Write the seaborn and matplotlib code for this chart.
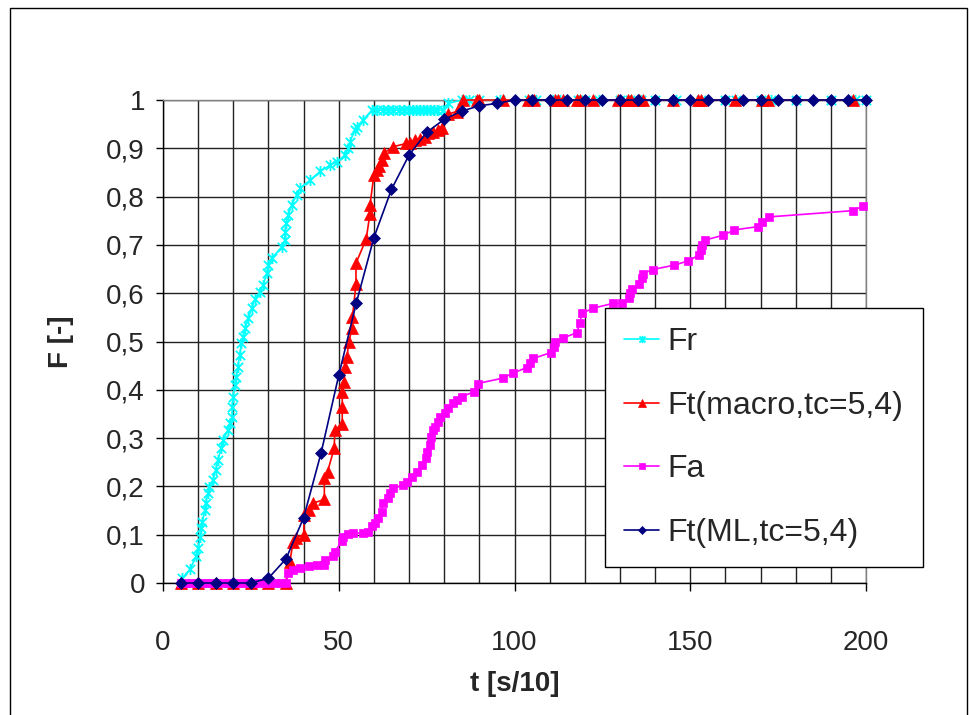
import matplotlib
matplotlib.use("Agg")
import matplotlib.pyplot as plt
import seaborn as sns
from matplotlib.path import Path
from matplotlib.patches import Rectangle
from matplotlib.ticker import MultipleLocator, FuncFormatter

# ---- data -------------------------------------------------------------
fr_t = [5.5, 7.6, 9.5, 10, 10.6, 10.9, 11.2, 11.9, 12.1, 12.8,
        13.1, 14.2, 15, 15.6, 16.6, 17.1, 18.5, 19, 19.7, 19.7,
        19.9, 20.4, 20.9, 21.3, 21.8, 22.3, 22.8, 23.3, 24.3, 25.2,
        26.2, 27.6, 28.5, 29.5, 30, 30.9, 33.8, 34.7, 34.7, 35,
        35.6, 36.6, 38, 39, 41.8, 44.7, 47.5, 49.4, 51.8, 52.7,
        53.2, 54.6, 55.1, 57, 59.4, 61, 62.5, 64, 65.5, 67,
        68.5, 70, 71, 72, 73, 74, 75, 76, 77, 78,
        79.7, 81.2, 85, 87, 90, 96, 104, 106, 111, 113,
        118, 120, 124, 130, 133, 136, 140, 146, 153, 160,
        163, 170, 173, 180, 190, 197, 200]
fr_F = [0.01, 0.028, 0.055, 0.072, 0.096, 0.113, 0.127, 0.151, 0.166, 0.186,
        0.199, 0.213, 0.234, 0.255, 0.279, 0.296, 0.317, 0.331, 0.344, 0.365,
        0.386, 0.41, 0.427, 0.448, 0.472, 0.496, 0.51, 0.527, 0.548, 0.569,
        0.589, 0.603, 0.617, 0.641, 0.658, 0.672, 0.696, 0.71, 0.727, 0.745,
        0.762, 0.783, 0.803, 0.817, 0.834, 0.852, 0.865, 0.872, 0.886, 0.9,
        0.914, 0.938, 0.945, 0.959, 0.979, 0.979, 0.979, 0.979, 0.979, 0.979,
        0.979, 0.979, 0.979, 0.979, 0.979, 0.979, 0.979, 0.979, 0.979, 0.979,
        0.979, 0.993, 1, 1, 1, 1, 1, 1, 1, 1,
        1, 1, 1, 1, 1, 1, 1, 1, 1, 1,
        1, 1, 1, 1, 1, 1, 1]

macro_t = [5, 10, 15, 20, 25, 30, 35,
           36.1, 37, 37.8, 40, 40.2, 41.4, 42.6, 45.9, 45.9, 46.8,
           48.7, 48.9, 51, 51, 51, 51.5, 51.8, 52.3, 52.9, 53.7,
           53.9, 54.9, 54.9, 57.8, 58.9, 58.9, 60, 60.8, 61.5, 62.2,
           62.9, 65.3, 69.2, 70.3, 71.7, 73.1, 74.5, 75.5, 76.9, 78.3,
           79.5, 81.2, 83.5, 85.4, 89.2, 90, 96.6, 103.9, 105.6, 111.5,
           112.5, 113.9, 117.7, 118.6, 122.4, 129.5, 132.4, 133.1, 135.5, 136.6,
           145.2, 152.3, 153, 162.7, 170.3, 172.2, 196.4]
macro_F = [0, 0, 0, 0, 0, 0, 0,
           0.044, 0.085, 0.093, 0.10, 0.14, 0.151, 0.165, 0.173, 0.217, 0.23,
           0.279, 0.317, 0.33, 0.365, 0.396, 0.417, 0.448, 0.468, 0.498, 0.527,
           0.551, 0.619, 0.662, 0.712, 0.765, 0.783, 0.845, 0.855, 0.864, 0.876,
           0.89, 0.903, 0.91, 0.912, 0.917, 0.92, 0.924, 0.931, 0.934, 0.938,
           0.941, 0.971, 0.976, 1, 1, 1, 1, 1, 1, 1,
           1, 1, 1, 1, 1, 1, 1, 1, 1, 1,
           1, 1, 1, 1, 1, 1, 1]

fa_t = [5, 6.5, 8, 9.5, 11, 12.5, 14, 15.5, 17, 18.5, 20,
        21.5, 23, 24.5, 26, 27.5, 29, 30.5, 32, 33.5, 35,
        35.6, 37, 39, 41.4, 43.7, 45.8, 46.1,
        48.5, 48.9, 50.8, 51.3, 52.7, 54.1, 57, 58.4, 59.4, 60.3,
        61.3, 62.2, 62.5, 64.1, 64.6, 65.5, 68.4, 69.3, 70.8, 72.2,
        73.6, 74.8, 75.2, 76, 76.2, 76.7, 77.4, 78.3, 78.8, 80.2,
        81.2, 82.6, 83.6, 85, 88.6, 89.5, 96.6, 99.7, 103.5, 104.4,
        105.4, 110.3, 111.2, 111.5, 113.7, 117.7, 118.6, 119.1, 122.4, 128.1,
        130.5, 132.6, 132.9, 133.5, 135.5, 136.2, 136.5, 139.3, 145.4, 149.5,
        152.5, 153.1, 153.3, 154.2, 159.4, 162.5, 169.4, 170.3, 172.5, 196.4,
        199.2]
fa_F = [0, 0, 0, 0, 0, 0, 0, 0, 0, 0, 0,
        0, 0, 0, 0, 0, 0, 0, 0, 0, 0,
        0.02, 0.027, 0.032, 0.035, 0.037, 0.037, 0.048,
        0.055, 0.065, 0.086, 0.096, 0.101, 0.104, 0.103, 0.106, 0.117, 0.124,
        0.134, 0.148, 0.165, 0.175, 0.186, 0.196, 0.203, 0.21, 0.22, 0.23,
        0.244, 0.258, 0.272, 0.286, 0.303, 0.317, 0.324, 0.334, 0.344, 0.351,
        0.362, 0.372, 0.379, 0.386, 0.396, 0.413, 0.424, 0.435, 0.446, 0.455,
        0.465, 0.477, 0.489, 0.5, 0.507, 0.518, 0.538, 0.558, 0.569, 0.579,
        0.579, 0.591, 0.6, 0.608, 0.62, 0.631, 0.64, 0.649, 0.658, 0.667,
        0.679, 0.689, 0.7, 0.71, 0.72, 0.731, 0.738, 0.748, 0.758, 0.771,
        0.781]

ml_t = [5, 10, 15, 20, 25, 30, 35, 40, 45, 50,
        55, 60, 65, 70, 75, 80, 85, 90, 95, 100,
        105, 110, 115, 120, 125, 130, 135, 140, 145, 150,
        155, 160, 165, 170, 175, 180, 185, 190, 195, 200]
ml_F = [0, 0, 0, 0, 0, 0.01, 0.05, 0.135, 0.27, 0.43,
        0.58, 0.715, 0.815, 0.886, 0.933, 0.96, 0.977, 0.988, 0.993, 1,
        1, 1, 1, 1, 1, 1, 1, 1, 1, 1,
        1, 1, 1, 1, 1, 1, 1, 1, 1, 1]

x_ticks = [0, 50, 100, 150, 200]
y_ticks = [0, 0.1, 0.2, 0.3, 0.4, 0.5, 0.6, 0.7, 0.8, 0.9, 1]

# ---- style ------------------------------------------------------------
sns.set_theme(style="white")
plt.rcParams["font.family"] = ["Liberation Sans", "DejaVu Sans"]

# asterisk-like cross marker (x with a vertical bar)
star_x = Path([(-1, -1), (1, 1), (-1, 1), (1, -1), (0, -1.2), (0, 1.2)],
              [Path.MOVETO, Path.LINETO, Path.MOVETO, Path.LINETO,
               Path.MOVETO, Path.LINETO])

fig = plt.figure(figsize=(9.69, 7.15), dpi=100)
ax = fig.add_axes([163 / 969, 1 - 583 / 715, 703 / 969, 483 / 715])

series = [
    ("Fr", fr_t, fr_F, "#00FFFF", star_x, 8, "none", 1.3),
    ("Ft(macro,tc=5,4)", macro_t, macro_F, "#FF0000", "^", 8.5, "#FF0000", 0.5),
    ("Fa", fa_t, fa_F, "#FF00FF", "s", 6.3, "#FF00FF", 0.5),
    ("Ft(ML,tc=5,4)", ml_t, ml_F, "#000080", "D", 6, "#000080", 0.5),
]
for label, t, f, color, marker, ms, mfc, mew in series:
    assert len(t) == len(f), label
    sns.lineplot(x=t, y=f, ax=ax, color=color, marker=marker, markersize=ms,
                 markerfacecolor=mfc, markeredgecolor=color, markeredgewidth=mew,
                 linewidth=1.2, sort=False, estimator=None, label=label,
                 clip_on=False, zorder=3)

ax.set_xlim(0, 200)
ax.set_ylim(0, 1)
ax.set_xticks(x_ticks)
ax.xaxis.set_minor_locator(MultipleLocator(10))
ax.set_yticks(y_ticks)


def comma_fmt(v, pos):
    if abs(v) < 1e-9:
        return "0"
    if abs(v - 1) < 1e-9:
        return "1"
    return f"{v:.1f}".replace(".", ",")


ax.yaxis.set_major_formatter(FuncFormatter(comma_fmt))

ax.grid(True, which="both", axis="x", color="#222222", linewidth=1.0)
ax.grid(True, which="major", axis="y", color="#222222", linewidth=1.0)
ax.set_axisbelow(True)

for side in ["top", "right"]:
    ax.spines[side].set_color("#808080")
    ax.spines[side].set_linewidth(1.0)
for side in ["left", "bottom"]:
    ax.spines[side].set_color("#000000")
    ax.spines[side].set_linewidth(1.0)

ax.tick_params(axis="x", which="major", direction="out", length=6, width=1,
               color="black", labelsize=20, pad=28, bottom=True)
ax.tick_params(axis="x", which="minor", length=0)
ax.tick_params(axis="y", which="major", direction="out", length=5, width=1,
               color="black", labelsize=20, pad=8, left=True)

ax.set_xlabel("t [s/10]", fontsize=20, fontweight="bold")
ax.set_ylabel("F [-]", fontsize=20, fontweight="bold")
ax.xaxis.set_label_coords(0.5, -0.182)
ax.yaxis.set_label_coords(-0.127, 0.5)

leg = ax.legend(loc="upper left", bbox_to_anchor=(0.629, 0.569),
                fontsize=23, frameon=True, fancybox=False,
                edgecolor="black", framealpha=1, borderpad=0.6,
                labelspacing=1.05, handlelength=1.1, handletextpad=0.25,
                markerscale=0.65, borderaxespad=0)
leg.get_frame().set_linewidth(1.0)
leg.set_zorder(5)

# outer chart border
fig.patches.append(Rectangle((10 / 969, -0.01), (967 - 10) / 969, 1 - 8 / 715 + 0.01,
                             transform=fig.transFigure, fill=False,
                             edgecolor="black", linewidth=1.0))

fig.savefig("out.png", dpi=100, facecolor="white")
